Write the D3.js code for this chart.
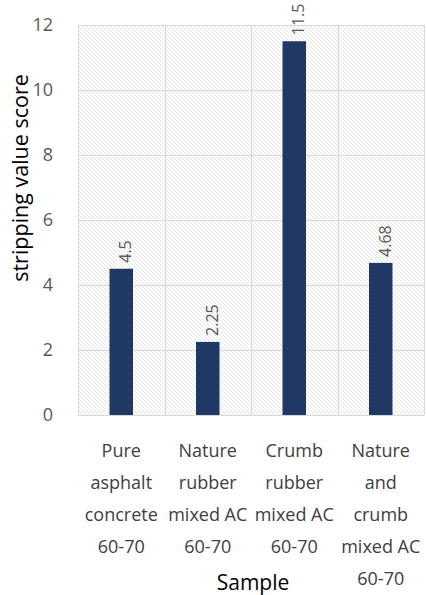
<!DOCTYPE html>
<html><head><meta charset="utf-8">
<script src="https://cdn.jsdelivr.net/npm/d3@7"></script>
<style>body{margin:0;background:#fff;} svg{display:block;}</style>
</head><body>
<script>
const categories = ["Pure asphalt concrete 60-70","Nature rubber mixed AC 60-70","Crumb rubber mixed AC 60-70","Nature and crumb mixed AC 60-70"];
const categoryLines = [["Pure","asphalt","concrete","60-70"],["Nature","rubber","mixed AC","60-70"],["Crumb","rubber","mixed AC","60-70"],["Nature","and","crumb","mixed AC","60-70"]];
const values = [4.5, 2.25, 11.5, 4.68];
const yTicks = [0,2,4,6,8,10,12];
const yTitle = "stripping value score";
const xTitle = "Sample";

const W=426,H=595;
const m={left:78,right:2,top:25,bottom:180};
const svg=d3.select("body").append("svg").attr("width",W).attr("height",H);
const font="'Open Sans', sans-serif";

const defs=svg.append("defs");
const pat=defs.append("pattern").attr("id","hatch").attr("patternUnits","userSpaceOnUse").attr("width",4).attr("height",4);
pat.append("rect").attr("width",4).attr("height",4).attr("fill","#ffffff");
pat.append("path").attr("d","M-1,-1 L5,5 M-1,3 L1,5 M3,-1 L5,1").attr("stroke","#e3e3e3").attr("stroke-width",1);

const x=d3.scaleBand().domain(categories).range([m.left,W-m.right]).paddingInner(0).paddingOuter(0);
const y=d3.scaleLinear().domain([0,12]).range([H-m.bottom,m.top]);

svg.append("rect").attr("x",m.left).attr("y",m.top).attr("width",W-m.right-m.left).attr("height",H-m.bottom-m.top).attr("fill","url(#hatch)");

// horizontal grid
svg.append("g").selectAll("line").data(yTicks).join("line")
 .attr("x1",m.left).attr("x2",W-m.right).attr("y1",d=>y(d)+0.5).attr("y2",d=>y(d)+0.5)
 .attr("stroke","#d9d9d9").attr("stroke-width",1);
// vertical grid at band boundaries
const bounds=categories.map(c=>x(c)).concat([x(categories[categories.length-1])+x.bandwidth()]);
svg.append("g").selectAll("line").data(bounds).join("line")
 .attr("x1",d=>Math.round(d)+0.5).attr("x2",d=>Math.round(d)+0.5).attr("y1",m.top).attr("y2",H-m.bottom)
 .attr("stroke","#d9d9d9").attr("stroke-width",1);

// bars
const bw=23.5;
svg.append("g").selectAll("rect").data(values).join("rect")
 .attr("x",(d,i)=>x(categories[i])+x.bandwidth()/2-bw/2)
 .attr("width",bw)
 .attr("y",d=>y(d)).attr("height",d=>y(0)-y(d))
 .attr("fill","#203864");

// value labels
svg.append("g").selectAll("text").data(values).join("text")
 .attr("transform",(d,i)=>`translate(${x(categories[i])+x.bandwidth()/2+10},${y(d)-6}) rotate(-90)`)
 .attr("text-anchor","start").attr("font-family",font).attr("font-size",16).attr("fill","#595959")
 .text(d=>String(d));

// y axis ticks
const ya=svg.append("g").attr("transform",`translate(${m.left},0)`).call(d3.axisLeft(y).tickValues(yTicks).tickSize(0).tickPadding(25).tickFormat(d3.format("d")));
ya.select(".domain").remove();
ya.selectAll("text").attr("font-family",font).attr("font-size",18).attr("fill","#595959");

// x category labels
const xg=svg.append("g");
categoryLines.forEach((lines,i)=>{
  const cx=x(categories[i])+x.bandwidth()/2;
  const t=xg.append("text").attr("text-anchor","middle").attr("font-family",font).attr("font-size",18).attr("fill","#404040");
  lines.forEach((ln,j)=>{
    t.append("tspan").attr("x",cx).attr("y",457+j*32).text(ln);
  });
});

// titles
svg.append("text").attr("x",(m.left+W-m.right)/2+2).attr("y",590).attr("text-anchor","middle")
 .attr("font-family",font).attr("font-size",21).attr("fill","#000").text(xTitle);
svg.append("text").attr("transform",`translate(28,178) rotate(-90)`).attr("text-anchor","middle")
 .attr("font-family",font).attr("font-size",21.5).attr("fill","#000").text(yTitle);
</script>
</body></html>
